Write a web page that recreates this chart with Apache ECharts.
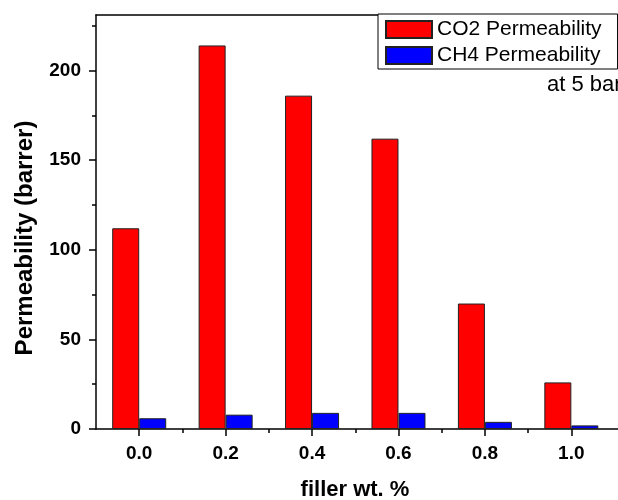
<!DOCTYPE html>
<html>
<head>
<meta charset="utf-8">
<script src="https://cdn.jsdelivr.net/npm/echarts@6/dist/echarts.min.js"></script>
<style>html,body{margin:0;padding:0;background:#fff;}#c{width:618px;height:500px;}</style>
</head>
<body>
<div id="c"></div>
<script>
const fillerWt = [0.0, 0.2, 0.4, 0.6, 0.8, 1.0];
const co2Perm = [112, 214, 186, 162, 70, 26];
const ch4Perm = [6, 8, 9, 9, 4, 2];
const xMajorTicks = [0.0, 0.2, 0.4, 0.6, 0.8, 1.0];
const xMinorTicks = [0.1, 0.3, 0.5, 0.7, 0.9];
const yMajorTicks = [0, 50, 100, 150, 200];
const yMinorTicks = [25, 75, 125, 175, 225];

const chart = echarts.init(document.getElementById('c'), null, {renderer: 'canvas'});
const font = 'Liberation Sans, Arial, sans-serif';
const grid = {left: 96, top: 15, width: 522, height: 414};
const xRange = {min: -0.1, max: 1.108};
const yRange = {min: 0, max: 231};
const line = {lineStyle: {color: '#000', width: 1.5}};

chart.setOption({
  animation: false,
  backgroundColor: '#fff',
  grid: grid,
  legend: {
    orient: 'vertical', left: 378, top: 14,
    backgroundColor: '#fff', borderColor: '#000', borderWidth: 1,
    padding: [5, 16, 3, 7], itemWidth: 46, itemHeight: 17, itemGap: 5,
    icon: 'rect',
    textStyle: {fontFamily: font, fontSize: 21, color: '#000', lineHeight: 18},
    data: ['CO2 Permeability', 'CH4 Permeability']
  },
  xAxis: [
    {type: 'value', ...xRange, position: 'bottom',
     axisLine: {show: true, onZero: false, ...line},
     axisTick: {show: true, length: 7, customValues: xMajorTicks, lineStyle: {color: '#000', width: 1.5}},
     axisLabel: {customValues: xMajorTicks, margin: 15, formatter: v => v.toFixed(1),
       fontFamily: font, fontSize: 19, fontWeight: 'bold', color: '#000'},
     splitLine: {show: false}},
    {type: 'value', ...xRange, position: 'bottom',
     axisLine: {show: false, onZero: false},
     axisTick: {show: true, length: 4, customValues: xMinorTicks, lineStyle: {color: '#000', width: 1.5}},
     axisLabel: {show: false}, splitLine: {show: false}},
    {type: 'value', ...xRange, position: 'top',
     axisLine: {show: true, onZero: false, ...line},
     axisTick: {show: false}, axisLabel: {show: false}, splitLine: {show: false}}
  ],
  yAxis: [
    {type: 'value', ...yRange, position: 'left',
     axisLine: {show: true, onZero: false, ...line},
     axisTick: {show: true, length: 7, customValues: yMajorTicks, lineStyle: {color: '#000', width: 1.5}},
     axisLabel: {customValues: yMajorTicks, margin: 15,
       fontFamily: font, fontSize: 19, fontWeight: 'bold', color: '#000'},
     splitLine: {show: false}},
    {type: 'value', ...yRange, position: 'left',
     axisLine: {show: false, onZero: false},
     axisTick: {show: true, length: 4, customValues: yMinorTicks, lineStyle: {color: '#000', width: 1.5}},
     axisLabel: {show: false}, splitLine: {show: false}}
  ],
  series: [
    {name: 'CO2 Permeability', type: 'bar', xAxisIndex: 0, yAxisIndex: 0,
     barWidth: 27, barGap: '0%',
     itemStyle: {color: '#ff0000', borderColor: '#222', borderWidth: 1},
     data: fillerWt.map((x, i) => [x, co2Perm[i]])},
    {name: 'CH4 Permeability', type: 'bar', xAxisIndex: 0, yAxisIndex: 0,
     barWidth: 27, barGap: '0%',
     itemStyle: {color: '#0000ff', borderColor: '#222', borderWidth: 1},
     data: fillerWt.map((x, i) => [x, ch4Perm[i]])}
  ],
  graphic: [
    {type: 'text', left: 547, top: 74,
     style: {text: 'at 5 bar', font: '22px ' + font, fill: '#000'}},
    {type: 'text', x: 355, y: 490,
     style: {text: 'filler wt. %', font: 'bold 22px ' + font, fill: '#000', align: 'center', verticalAlign: 'middle'}},
    {type: 'text', x: 25, y: 238, rotation: Math.PI / 2,
     style: {text: 'Permeability (barrer)', font: 'bold 24px ' + font, fill: '#000', align: 'center', verticalAlign: 'middle'}}
  ]
});
</script>
</body>
</html>
